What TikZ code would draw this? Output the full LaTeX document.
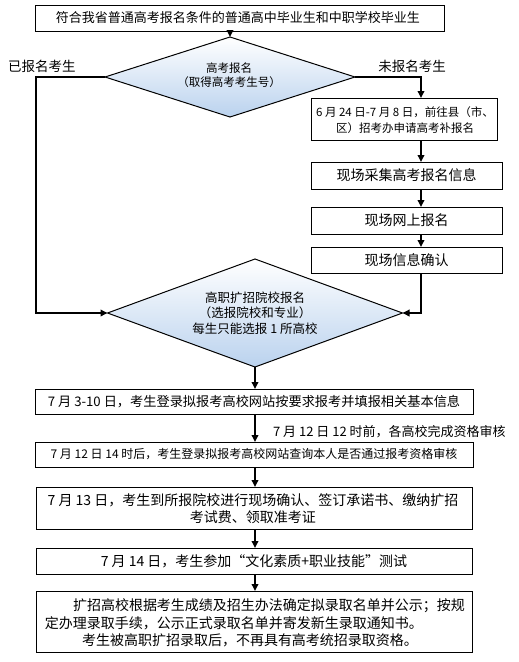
\documentclass[tikz,border=0pt]{standalone}
\usepackage{fontspec}
\setmainfont{Noto Sans CJK SC}
\usetikzlibrary{shapes.geometric,arrows.meta}
\definecolor{diabot}{RGB}{186,210,238}
\tikzset{
  box/.style={draw=black, line width=0.9pt, inner sep=0pt, outer sep=0pt},
  dia/.style={diamond, draw=black, line width=1pt, inner sep=0pt, outer sep=0pt,
              top color=white, bottom color=diabot, shading angle=0},
  conn/.style={draw=black, line width=1.8pt, line join=miter},
  arr/.style={conn, -{Triangle[length=7pt,width=6.5pt]}},
  txt/.style={inner sep=0pt, outer sep=0pt, align=center}
}
\begin{document}
\begin{tikzpicture}[x=1pt,y=-1pt]
\useasboundingbox (0,0) rectangle (519,662);
\coordinate (lc) at (36,0);
\coordinate (rc) at (421,0);

% top box
\node[box, minimum width=409pt, minimum height=26pt] (top) at (239.5,18) {};
\node[txt, font=\fontsize{13}{15}\selectfont] (toptxt) at (238,18) {符合我省普通高考报名条件的普通高中毕业生和中职学校毕业生};

% diamond 1
\node[dia, minimum width=250pt, minimum height=80pt] (d1) at (230,77) {};
\node[txt, font=\fontsize{11.5}{14}\selectfont] (d1txt) at (229,75) {高考报名\\（取得高考考生号）};

\node[txt, font=\fontsize{13.5}{15}\selectfont] (lbl1) at (42,66) {已报名考生};
\node[txt, font=\fontsize{13.5}{15}\selectfont] (lbl2) at (412,66) {未报名考生};

% right column boxes
\node[box, minimum width=186pt, minimum height=42pt] (b2) at (404,119) {};
\node[txt, font=\fontsize{11.5}{16}\selectfont] (b2txt) at (405,120) {6 月 24 日-7 月 8 日，前往县（市、\\区）招考办申请高考补报名};
\node[box, minimum width=191pt, minimum height=27pt, font=\fontsize{14}{16}\selectfont] (b3) at (406.5,175.5) {现场采集高考报名信息};
\node[box, minimum width=191pt, minimum height=27pt, font=\fontsize{14}{16}\selectfont] (b4) at (406.5,220.5) {现场网上报名};
\node[box, minimum width=191pt, minimum height=26pt, font=\fontsize{14}{16}\selectfont] (b5) at (406.5,260) {现场信息确认};

% diamond 2
\node[dia, minimum width=295pt, minimum height=108pt] (d2) at (255,313) {};
\node[txt, font=\fontsize{12.5}{15.5}\selectfont] (d2txt) at (255,313) {高职扩招院校报名\\（选报院校和专业）\\每生只能选报 1 所高校};

% lower boxes
\node[box, minimum width=438pt, minimum height=25pt, font=\fontsize{13.2}{15}\selectfont] (b6) at (254,401.5) {7 月 3-10 日，考生登录拟报考高校网站按要求报考并填报相关基本信息};
\node[txt, anchor=west, font=\fontsize{13}{15}\selectfont] (lbl3) at (273,432) {7 月 12 日 12 时前，各高校完成资格审核};
\node[box, minimum width=438pt, minimum height=25pt, font=\fontsize{12}{14}\selectfont] (b7) at (254,454.5) {7 月 12 日 14 时后，考生登录拟报考高校网站查询本人是否通过报考资格审核};
\node[box, minimum width=436pt, minimum height=42pt] (b8) at (254,508) {};
\node[txt, font=\fontsize{14}{17}\selectfont] (b8txt) at (253,508.5) {7 月 13 日，考生到所报院校进行现场确认、签订承诺书、缴纳扩招\\考试费、领取准考证};
\node[box, minimum width=436pt, minimum height=26pt, font=\fontsize{14}{16}\selectfont] (b9) at (254,561) {7 月 14 日，考生参加“文化素质+职业技能”测试};
\node[box, minimum width=436pt, minimum height=61pt] (b10) at (254,621.5) {};
\node[txt, anchor=west, font=\fontsize{14}{16}\selectfont] (b10a) at (73,606) {扩招高校根据考生成绩及招生办法确定拟录取名单并公示；按规};
\node[txt, anchor=west, font=\fontsize{14}{16}\selectfont] (b10b) at (45,623) {定办理录取手续，公示正式录取名单并寄发新生录取通知书。};
\node[txt, font=\fontsize{14}{16}\selectfont] (b10c) at (250,640) {考生被高职扩招录取后，不再具有高考统招录取资格。};

% connectors
\draw[arr] (d1.north |- top.south) -- (d1.north);
\draw[arr] (d1.west) -- (d1.west -| lc) |- (d2.west);
\draw[arr] (d1.east) -| (b2.north -| rc);
\draw[arr] (b2.south -| rc) -- (b3.north -| rc);
\draw[arr] (b3.south -| rc) -- (b4.north -| rc);
\draw[arr] (b4.south -| rc) -- (b5.north -| rc);
\draw[arr] (b5.south -| rc) |- (d2.east);
\draw[arr] (d2.south) -- (d2.south |- b6.north);
\draw[arr] (d2.south |- b6.south) -- (d2.south |- b7.north);
\draw[arr] (d2.south |- b7.south) -- (d2.south |- b8.north);
\draw[arr] (d2.south |- b8.south) -- (d2.south |- b9.north);
\draw[arr] (d2.south |- b9.south) -- (d2.south |- b10.north);
\end{tikzpicture}
\end{document}
